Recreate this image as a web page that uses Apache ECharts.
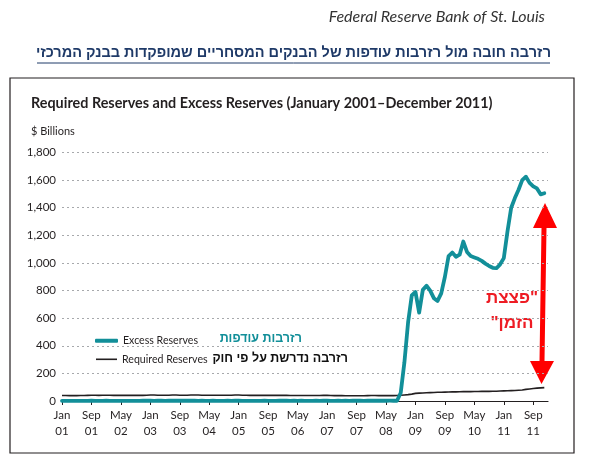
<!DOCTYPE html>
<html>
<head>
<meta charset="utf-8">
<script src="https://cdn.jsdelivr.net/npm/echarts@6/dist/echarts.min.js"></script>
<style>
html,body{margin:0;padding:0;background:#fff;}
#c{width:592px;height:462px;}
</style>
</head>
<body>
<div id="c"></div>
<script>
// ---- data ----
const monthNames = ['Jan','Feb','Mar','Apr','May','Jun','Jul','Aug','Sep','Oct','Nov','Dec'];
const yearLabels = ['01','02','03','04','05','06','07','08','09','10','11','12'];
// tick labels shown every 8 months
const tickLabels = ['Jan 01','Sep 01','May 02','Jan 03','Sep 03','May 04','Jan 05','Sep 05','May 06','Jan 07','Sep 07','May 08','Jan 09','Sep 09','May 10','Jan 11','Sep 11'];
const yTicks = [0,200,400,600,800,1000,1200,1400,1600,1800];

// Excess reserves, $ billions, monthly Jan 2001 - Dec 2011
const excessReserves = [
  1.3,1.4,1.2,1.4,1.3,1.2,1.3,1.2,2.5,1.4,1.3,1.6,
  1.7,1.4,1.5,1.6,1.4,1.3,1.5,1.4,1.5,1.6,1.7,1.8,
  1.8,1.6,1.8,1.7,1.6,1.8,1.9,1.7,1.8,1.7,1.7,1.8,
  1.9,1.6,1.7,1.6,1.5,1.7,1.6,1.5,1.6,1.7,1.6,1.8,
  1.7,1.6,1.5,1.6,1.5,1.6,1.5,1.7,1.6,1.5,1.6,1.9,
  1.8,1.7,1.6,1.7,1.6,1.7,1.6,1.5,1.6,1.7,1.6,1.8,
  1.7,1.6,1.5,1.7,1.6,1.7,1.6,2.0,1.8,1.7,1.6,1.9,
  1.8,1.7,1.9,1.8,1.9,2.1,1.9,1.9,60,280,570,765,
  790,640,805,835,800,745,725,780,900,1050,1075,1045,
  1060,1155,1080,1050,1040,1030,1015,995,978,965,962,990,
  1035,1230,1400,1470,1530,1600,1625,1580,1555,1540,1497,1505
];
// Required reserves, $ billions, monthly Jan 2001 - Dec 2011
const requiredReserves = [
  40,40,39,39,39,40,40,41,42,42,41,42,
  42,42,41,41,41,41,41,41,41,41,41,42,
  43,43,42,42,42,42,43,43,42,42,42,43,
  43,43,42,42,42,42,42,42,42,42,42,43,
  43,42,42,41,41,41,41,41,41,41,41,41,
  41,41,40,40,40,40,40,40,40,40,40,41,
  41,40,39,39,39,38,38,38,38,38,38,39,
  40,40,39,39,39,39,39,40,42,44,46,50,
  55,57,58,60,61,62,63,63,64,65,66,66,
  67,68,68,68,69,69,70,70,70,71,71,72,
  73,74,75,76,78,80,84,87,90,93,95,97
];

// month categories Jan 01 .. Jan 12
const categories = [];
for (let y = 0; y < 11; y++) for (let m = 0; m < 12; m++) categories.push(monthNames[m] + ' ' + yearLabels[y]);
categories.push('Jan 12');

const TEAL = '#128f99';
const INK = '#231f20';
const RED = '#ee1c24';
const EN = 'Lato, "Open Sans", sans-serif';
const HE = '"Liberation Sans", Arial, sans-serif';

const legendText = {fontFamily: EN, fontSize: 10.6, color: INK};

const chart = echarts.init(document.getElementById('c'), null, {renderer: 'canvas'});
chart.setOption({
  animation: false,
  backgroundColor: '#fff',
  grid: {left: 62, right: 44, top: 152.5, bottom: 61, containLabel: false},
  legend: [
    {left: 90, top: 330.3, itemWidth: 23, itemHeight: 4, icon: 'roundRect', itemGap: 5,
     data: ['Excess Reserves'], textStyle: legendText, selectedMode: false},
    {left: 91, top: 348.8, itemWidth: 21, itemHeight: 1.6, icon: 'rect', itemGap: 5,
     data: ['Required Reserves'], textStyle: legendText, selectedMode: false}
  ],
  xAxis: {
    type: 'category', data: categories, boundaryGap: false,
    axisLine: {lineStyle: {color: INK, width: 1.2}},
    axisTick: {length: 4, lineStyle: {color: INK},
      interval: (i, v) => tickLabels.indexOf(v) >= 0},
    axisLabel: {
      interval: (i, v) => tickLabels.indexOf(v) >= 0,
      formatter: v => v.replace(' ', '\n'),
      fontFamily: EN, fontSize: 11.5, color: INK, lineHeight: 16, margin: 6
    },
    splitLine: {show: false}
  },
  yAxis: {
    type: 'value', min: yTicks[0], max: yTicks[yTicks.length - 1], interval: 200,
    axisLine: {show: false}, axisTick: {show: false},
    axisLabel: {fontFamily: EN, fontSize: 11.5, color: INK, margin: 6,
      formatter: v => v.toLocaleString('en-US')},
    splitLine: {lineStyle: {color: '#a7a9ac', type: [2, 3], width: 1}}
  },
  series: [
    {name: 'Required Reserves', type: 'line', data: requiredReserves, symbol: 'none',
     lineStyle: {color: INK, width: 1.6}, itemStyle: {color: INK}, z: 2},
    {name: 'Excess Reserves', type: 'line', data: excessReserves, symbol: 'none',
     lineStyle: {color: TEAL, width: 3.8, cap: 'round', join: 'round'}, itemStyle: {color: TEAL}, z: 3}
  ],
  graphic: [
    {type: 'text', x: 545, y: 17, style: {text: 'Federal Reserve Bank of St. Louis', fontFamily: EN, fontStyle: 'italic', fontSize: 16, fill: '#333', textAlign: 'right', textVerticalAlign: 'middle'}},
    {type: 'text', x: 293.5, y: 53, style: {text: 'רזרבה חובה מול רזרבות עודפות של הבנקים המסחריים שמופקדות בבנק המרכזי', fontFamily: HE, fontWeight: 'bold', fontSize: 14.5, fill: '#1f3a68', textAlign: 'center', textVerticalAlign: 'middle'}},
    {type: 'line', shape: {x1: 37, y1: 63, x2: 550, y2: 63}, style: {stroke: '#1f3a68', lineWidth: 1}},
    {type: 'rect', shape: {x: 10, y: 78, width: 564, height: 375}, style: {fill: 'none', stroke: INK, lineWidth: 1.2}},
    {type: 'text', x: 31, y: 103, style: {text: 'Required Reserves and Excess Reserves (January 2001\u2013December 2011)', fontFamily: EN, fontWeight: 'bold', fontSize: 14.4, fill: INK, textAlign: 'left', textVerticalAlign: 'middle'}},
    {type: 'text', x: 31, y: 131, style: {text: '$ Billions', fontFamily: EN, fontSize: 11, fill: INK, textAlign: 'left', textVerticalAlign: 'middle'}},
    {type: 'text', x: 302, y: 339, style: {text: 'רזרבות עודפות', fontFamily: HE, fontWeight: 'bold', fontSize: 12.5, fill: TEAL, textAlign: 'right', textVerticalAlign: 'middle'}},
    {type: 'text', x: 348, y: 359, style: {text: 'רזרבה נדרשת על פי חוק', fontFamily: HE, fontWeight: 'bold', fontSize: 12.5, fill: '#111', textAlign: 'right', textVerticalAlign: 'middle'}},
    {type: 'text', x: 512, y: 298, style: {text: '\u200F"פצצת', fontFamily: HE, fontWeight: 'bold', fontSize: 17, fill: RED, textAlign: 'center', textVerticalAlign: 'middle'}},
    {type: 'text', x: 512, y: 323, style: {text: 'הזמן"\u200F', fontFamily: HE, fontWeight: 'bold', fontSize: 17, fill: RED, textAlign: 'center', textVerticalAlign: 'middle'}},
    {type: 'polygon', shape: {points: [[545,203],[557,228],[546.5,228],[544.5,361],[554,361],[541.5,384],[530,361],[539.5,361],[541.5,228],[533,228]]}, style: {fill: '#ff0000'}}
  ]
});
</script>
</body>
</html>
